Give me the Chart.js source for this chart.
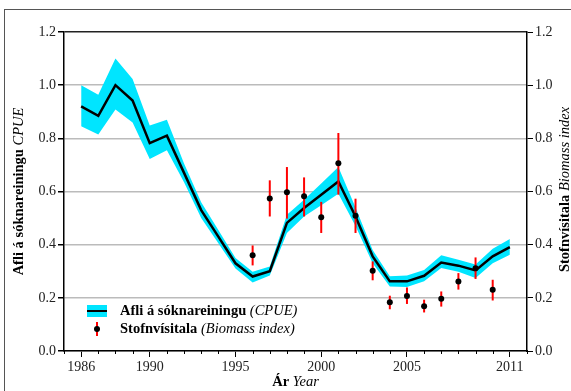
<!DOCTYPE html>
<html>
<head>
<meta charset="utf-8">
<script src="https://cdn.jsdelivr.net/npm/chart.js@4.4.1/dist/chart.umd.min.js"></script>
<style>
  html, body { margin: 0; padding: 0; background: #fff; overflow: hidden; }
  canvas { display: block; }
</style>
</head>
<body>
<canvas id="myChart" width="571" height="391"></canvas>
<script>
// Afli á sóknareiningu (CPUE) og öryggisbil
const arCpue = [1986, 1987, 1988, 1989, 1990, 1991, 1992, 1993, 1994, 1995, 1996, 1997, 1998,
  1999, 2000, 2001, 2002, 2003, 2004, 2005, 2006, 2007, 2008, 2009, 2010, 2011];
const cpue = [0.92, 0.885, 1.0, 0.942, 0.782, 0.81, 0.67, 0.53, 0.43, 0.33, 0.28, 0.30, 0.482,
  0.538, 0.588, 0.638, 0.506, 0.356, 0.262, 0.262, 0.283, 0.333, 0.321, 0.303, 0.356, 0.391];
const cpueLag = [0.845, 0.814, 0.908, 0.86, 0.722, 0.755, 0.635, 0.50, 0.405, 0.31, 0.258, 0.284, 0.444,
  0.506, 0.548, 0.592, 0.47, 0.33, 0.243, 0.241, 0.262, 0.312, 0.298, 0.275, 0.33, 0.362];
const cpueHa = [1.0, 0.964, 1.10, 1.023, 0.848, 0.87, 0.705, 0.56, 0.455, 0.35, 0.298, 0.318, 0.513,
  0.569, 0.63, 0.692, 0.54, 0.38, 0.281, 0.284, 0.305, 0.36, 0.343, 0.325, 0.385, 0.421];

// Stofnvísitala (Biomass index) með skekkjumörkum
const arVisit = [1996, 1997, 1998, 1999, 2000, 2001, 2002, 2003, 2004, 2005, 2006, 2007, 2008, 2009, 2010];
const visitala = [0.36, 0.574, 0.597, 0.582, 0.503, 0.706, 0.509, 0.302, 0.183, 0.207, 0.168, 0.197, 0.261, 0.311, 0.23];
const visitLag = [0.322, 0.506, 0.498, 0.506, 0.444, 0.588, 0.444, 0.266, 0.157, 0.177, 0.145, 0.167, 0.231, 0.271, 0.19];
const visitHa = [0.397, 0.642, 0.692, 0.653, 0.561, 0.82, 0.573, 0.337, 0.208, 0.239, 0.193, 0.224, 0.293, 0.352, 0.268];

// Ásamerki
const adalAr = [1986, 1990, 1995, 2000, 2005, 2011];
const oll_ar = [];
for (let a = 1985; a <= 2012; a++) oll_ar.push(a);

const serif = '"Liberation Serif", "DejaVu Serif", serif';
const cyan = '#00e5ff';
const titilStaerd = 14.5;

const pts = (xs, ys) => xs.map((x, i) => ({ x: x, y: ys[i] }));

// Teiknar ramma, ásaheiti, aukamerki, villustrik og skýringar
const skrautPlugin = {
  id: 'skraut',
  beforeDatasetDraw(chart, args) {
    if (args.index !== 3) return;
    const ctx = chart.ctx;
    const xs = chart.scales.x, ys = chart.scales.y;
    ctx.save();
    ctx.strokeStyle = '#ff0000';
    ctx.lineWidth = 2;
    arVisit.forEach((a, i) => {
      const px = xs.getPixelForValue(a);
      ctx.beginPath();
      ctx.moveTo(px, ys.getPixelForValue(visitLag[i]));
      ctx.lineTo(px, ys.getPixelForValue(visitHa[i]));
      ctx.stroke();
    });
    ctx.restore();
  },
  afterDraw(chart) {
    const ctx = chart.ctx;
    const ca = chart.chartArea;
    const xs = chart.scales.x;
    ctx.save();
    // ytri rammi
    ctx.strokeStyle = '#555';
    ctx.lineWidth = 1;
    ctx.strokeRect(4.5, 9.5, 700, 700);

    // aukamerki á x-ás
    ctx.strokeStyle = '#000';
    ctx.lineWidth = 1;
    oll_ar.forEach(a => {
      if (adalAr.includes(a)) return;
      const px = Math.round(xs.getPixelForValue(a)) + 0.5;
      ctx.beginPath();
      ctx.moveTo(px, ca.bottom);
      ctx.lineTo(px, ca.bottom + 3);
      ctx.stroke();
    });

    // blandað letur: feitt + skáletur
    const skrifa = (feitt, skakt, x0, cy) => {
      ctx.textBaseline = 'middle';
      ctx.textAlign = 'left';
      ctx.fillStyle = '#000';
      ctx.font = 'bold ' + titilStaerd + 'px ' + serif;
      ctx.fillText(feitt + ' ', x0, cy);
      const w1 = ctx.measureText(feitt + ' ').width;
      ctx.font = 'italic ' + titilStaerd + 'px ' + serif;
      ctx.fillText(skakt, x0 + w1, cy);
    };
    const midja = (feitt, skakt, cx, cy) => {
      ctx.font = 'bold ' + titilStaerd + 'px ' + serif;
      const w1 = ctx.measureText(feitt + ' ').width;
      ctx.font = 'italic ' + titilStaerd + 'px ' + serif;
      const w2 = ctx.measureText(skakt).width;
      skrifa(feitt, skakt, cx - (w1 + w2) / 2, cy);
    };
    const midY = (ca.top + ca.bottom) / 2;
    midja('Ár', 'Year', (ca.left + ca.right) / 2, 382);

    ctx.save();
    ctx.translate(19, midY);
    ctx.rotate(-Math.PI / 2);
    midja('Afli á sóknareiningu', 'CPUE', 0, 0);
    ctx.restore();

    ctx.save();
    ctx.translate(565, midY - 2);
    ctx.rotate(-Math.PI / 2);
    midja('Stofnvísitala', 'Biomass index', 0, 0);
    ctx.restore();

    // skýringar
    ctx.fillStyle = cyan;
    ctx.fillRect(87, 305, 20, 12);
    ctx.strokeStyle = '#000';
    ctx.lineWidth = 2;
    ctx.beginPath();
    ctx.moveTo(87, 311);
    ctx.lineTo(107, 311);
    ctx.stroke();

    ctx.strokeStyle = '#ff0000';
    ctx.beginPath();
    ctx.moveTo(97, 322);
    ctx.lineTo(97, 336);
    ctx.stroke();
    ctx.fillStyle = '#000';
    ctx.beginPath();
    ctx.arc(97, 329, 3, 0, Math.PI * 2);
    ctx.fill();

    skrifa('Afli á sóknareiningu', '(CPUE)', 120, 311);
    skrifa('Stofnvísitala', '(Biomass index)', 120, 329);
    ctx.restore();
  }
};

const cty = document.getElementById('myChart');
const myChart = new Chart(cty, {
  type: 'line',
  data: {
    datasets: [
      {
        label: 'lag',
        data: pts(arCpue, cpueLag),
        borderWidth: 0,
        pointRadius: 0,
        fill: false,
        order: 4
      },
      {
        label: 'ha',
        data: pts(arCpue, cpueHa),
        borderWidth: 0,
        pointRadius: 0,
        backgroundColor: cyan,
        fill: '-1',
        order: 3
      },
      {
        label: 'Afli á sóknareiningu (CPUE)',
        data: pts(arCpue, cpue),
        borderColor: '#000',
        borderWidth: 2.5,
        pointRadius: 0,
        fill: false,
        order: 2
      },
      {
        label: 'Stofnvísitala (Biomass index)',
        type: 'scatter',
        data: pts(arVisit, visitala),
        backgroundColor: '#000',
        borderColor: '#000',
        pointRadius: 3,
        borderWidth: 0,
        order: 1
      }
    ]
  },
  options: {
    responsive: false,
    animation: false,
    layout: { padding: { top: 32, left: 0, right: 0, bottom: 0 } },
    plugins: {
      legend: { display: false },
      tooltip: { enabled: false }
    },
    scales: {
      x: {
        type: 'linear',
        min: 1985,
        max: 2012,
        afterBuildTicks: (scale) => { scale.ticks = adalAr.map(v => ({ value: v })); },
        afterFit: (scale) => { scale.height = 40; },
        grid: {
          drawOnChartArea: false,
          drawTicks: true,
          tickLength: 6,
          tickColor: '#000'
        },
        border: { display: true, color: '#000', width: 1.5 },
        ticks: {
          autoSkip: false,
          maxRotation: 0,
          padding: 2,
          color: '#222',
          font: { family: serif, size: 14 },
          callback: (v) => String(v)
        }
      },
      y: {
        position: 'left',
        min: 0,
        max: 1.2,
        afterFit: (scale) => { scale.width = 64; },
        grid: {
          color: (c) => (c.tick && Math.abs(c.tick.value - 1.2) < 1e-6) ? '#222' : '#bbb',
          lineWidth: 1.5,
          tickLength: 6,
          tickColor: '#000'
        },
        border: { display: true, color: '#000', width: 1.5 },
        ticks: {
          stepSize: 0.2,
          padding: 2,
          color: '#222',
          font: { family: serif, size: 14 },
          callback: (v) => v.toFixed(1)
        }
      },
      y2: {
        position: 'right',
        min: 0,
        max: 1.2,
        afterFit: (scale) => { scale.width = 44; },
        grid: {
          drawOnChartArea: false,
          tickLength: 6,
          tickColor: '#000'
        },
        border: { display: true, color: '#000', width: 1.5 },
        ticks: {
          stepSize: 0.2,
          padding: 2,
          color: '#222',
          font: { family: serif, size: 14 },
          callback: (v) => v.toFixed(1)
        }
      }
    }
  },
  plugins: [skrautPlugin]
});
</script>
</body>
</html>
